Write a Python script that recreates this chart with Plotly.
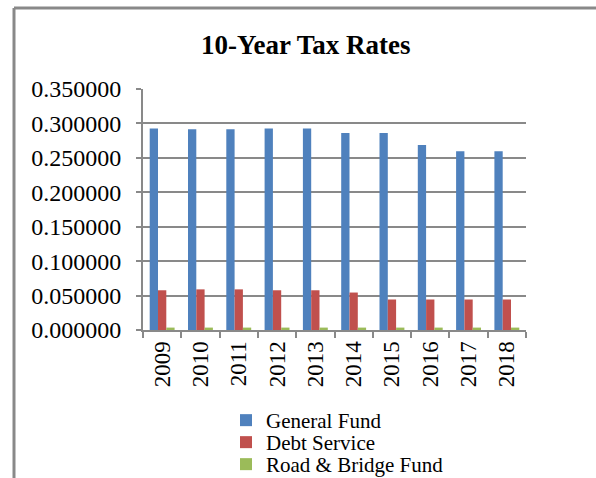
import plotly.graph_objects as go

# Tax rates per $100 valuation, by fiscal year
years = ["2009", "2010", "2011", "2012", "2013", "2014", "2015", "2016", "2017", "2018"]
general_fund = [0.292500, 0.291500, 0.291500, 0.292500, 0.292500,
                0.286000, 0.286000, 0.268500, 0.259500, 0.259500]
debt_service = [0.057700, 0.059000, 0.059000, 0.057700, 0.057700,
                0.054400, 0.044300, 0.044300, 0.044300, 0.044300]
road_bridge = [0.003500, 0.003500, 0.003500, 0.003500, 0.003500,
               0.003500, 0.003500, 0.003500, 0.003500, 0.003500]

series = [
    ("General Fund", general_fund, "#4F81BD"),
    ("Debt Service", debt_service, "#C0504D"),
    ("Road & Bridge Fund", road_bridge, "#9BBB59"),
]

serif = "Liberation Serif, Times New Roman, serif"
grid = "#898989"

W, H = 596, 478
L, R, T, B = 143, 70, 89, 148

fig = go.Figure()
legend_ids = ["legend", "legend2", "legend3"]
for (name, vals, color), lid in zip(series, legend_ids):
    fig.add_trace(go.Bar(x=years, y=vals, name=name, marker_color=color,
                         marker_line_width=0, legend=lid))

# one stacked legend row per series, tightly spaced
legend_tops = [400, 422, 444]
legend_style = dict(orientation="v", xref="container", yref="container",
                    x=226 / W, xanchor="left", yanchor="top",
                    font=dict(family=serif, size=21, color="black"),
                    bgcolor="rgba(0,0,0,0)", itemwidth=30)
for lid, top in zip(legend_ids, legend_tops):
    fig.update_layout({lid: dict(legend_style, y=1 - top / H)})

fig.update_layout(
    width=W, height=H,
    margin=dict(l=L, r=R, t=T, b=B, pad=0, autoexpand=False),
    paper_bgcolor="white", plot_bgcolor="white",
    barmode="group", bargap=0.35, bargroupgap=0,
    font=dict(family=serif, color="black"),
    title=dict(text="<b>10-Year Tax Rates</b>", font=dict(family=serif, size=27, color="black"),
               x=0.513, xanchor="center", y=1 - 45 / H, yanchor="middle", yref="container"),
    showlegend=True,
    xaxis=dict(type="category", showgrid=False, showline=True, linecolor=grid, linewidth=2,
               ticks="outside", tickson="boundaries", ticklen=6, tickwidth=2, tickcolor=grid,
               tickangle=-90, tickfont=dict(family=serif, size=23, color="black")),
    yaxis=dict(range=[0, 0.35], dtick=0.05, tickformat=".6f", showgrid=True, gridcolor=grid,
               gridwidth=2, showline=True, linecolor=grid, linewidth=2, zeroline=False,
               ticks="outside", ticklen=5, tickwidth=2, tickcolor=grid,
               ticklabelstandoff=10,
               tickfont=dict(family=serif, size=24, color="black")),
    shapes=[
        # chart-area frame along the left and top edges
        dict(type="line", xref="paper", yref="paper",
             x0=(14 - L) / (W - L - R), x1=(14 - L) / (W - L - R),
             y0=(330 - 8) / (330 - T), y1=(330 - H - 5) / (330 - T),
             line=dict(color=grid, width=3)),
        dict(type="line", xref="paper", yref="paper",
             x0=(14 - L) / (W - L - R), x1=(W + 5 - L) / (W - L - R),
             y0=(330 - 8) / (330 - T), y1=(330 - 8) / (330 - T),
             line=dict(color=grid, width=3)),
    ],
)

fig.write_html("out.html")
